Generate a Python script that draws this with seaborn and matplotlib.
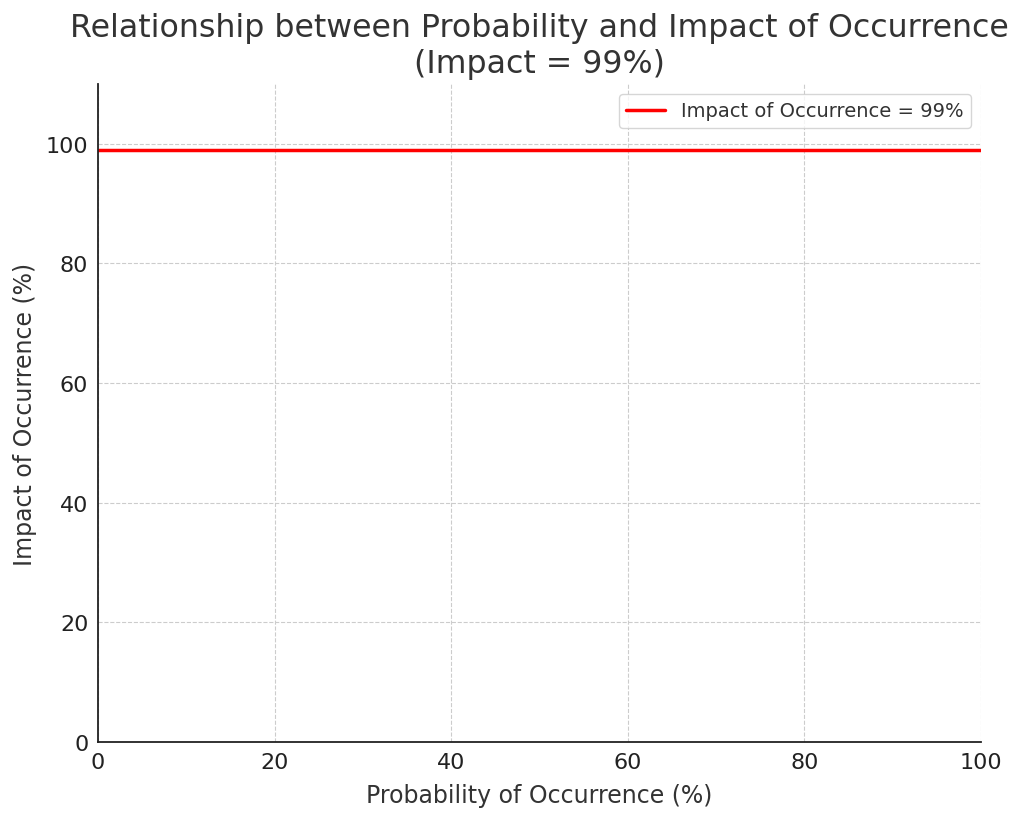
import matplotlib
matplotlib.use("Agg")
import matplotlib.pyplot as plt
import seaborn as sns
import numpy as np
import pandas as pd

probability = [0, 100]
impact = [99, 99]
series_label = "Impact of Occurrence = 99%"

sns.set_style("ticks")
plt.rcParams['font.family'] = ['DejaVu Sans']

df = pd.DataFrame({"Probability": probability, "Impact": impact})

fig = plt.figure(figsize=(10.24, 8.2), dpi=100)
ax = fig.add_axes([98/1024, 1 - 743/820, (981-98)/1024, (743-85)/820])
sns.lineplot(data=df, x="Probability", y="Impact", color="red", linewidth=2.5,
             label=series_label, ax=ax)
ax.set_xlim(0, 100)
ax.set_ylim(0, 110)
ax.set_xticks([0, 20, 40, 60, 80, 100])
ax.set_yticks([0, 20, 40, 60, 80, 100])
ax.tick_params(labelsize=16, colors="#222222", length=0, pad=7)
ax.set_xlabel("Probability of Occurrence (%)", fontsize=17, color="#333333", labelpad=8)
ax.set_ylabel("Impact of Occurrence (%)", fontsize=17, color="#333333", labelpad=6)
ax.set_title("Relationship between Probability and Impact of Occurrence\n(Impact = 99%)",
             fontsize=22.8, color="#333333", pad=9)
ax.grid(True, linestyle="--", color="#cccccc", linewidth=0.8)
for s in ["top", "right"]:
    ax.spines[s].set_visible(False)
for s in ["left", "bottom"]:
    ax.spines[s].set_color("#222222")
    ax.spines[s].set_linewidth(1.3)
leg = ax.legend(loc="upper right", fontsize=14, frameon=True)
for t in leg.get_texts():
    t.set_color("#333333")
fig.savefig("out.png", dpi=100)
